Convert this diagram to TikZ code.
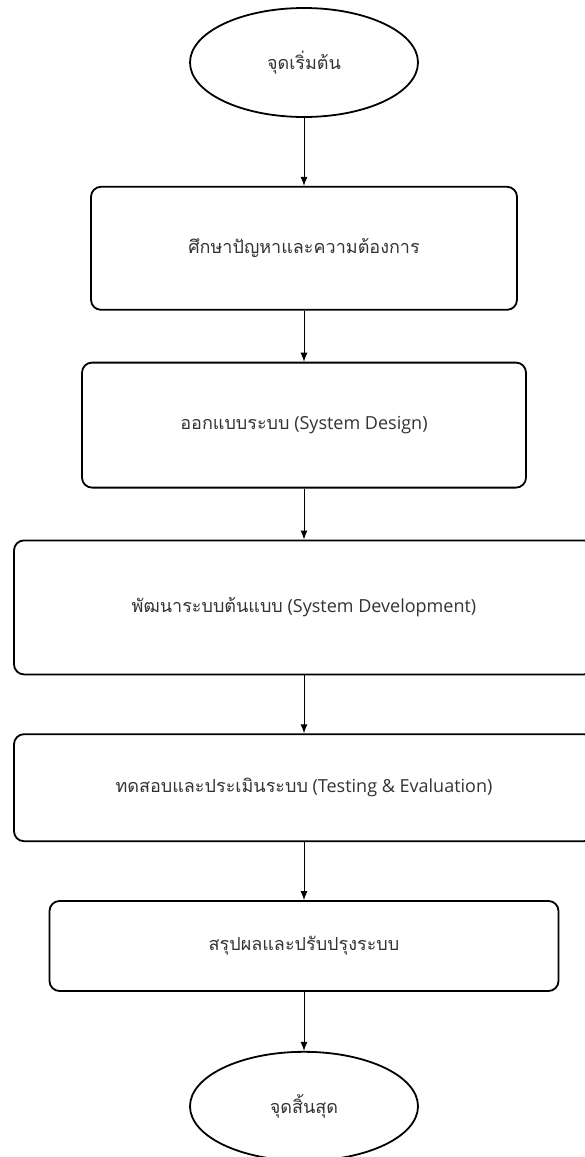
\documentclass[tikz,border=0pt]{standalone}
\usepackage{fontspec}
\setmainfont{Open Sans}
\newfontfamily\thaifont[Script=Thai]{Loma}
\usetikzlibrary{arrows.meta, positioning, shapes.geometric}

\begin{document}
\begin{tikzpicture}[>={Latex[length=9pt,width=7pt]}, x=1pt, y=1pt,
    box/.style={draw, line width=1.8pt, rounded corners=10pt, align=center,
                font=\fontsize{18}{21}\selectfont, text=black!80, inner sep=3pt},
    term/.style={draw, ellipse, line width=1.8pt, minimum width=228pt,
                minimum height=109pt, inner sep=0pt, font=\fontsize{18}{21}\selectfont,
                text=black!80},
    link/.style={->, line width=1pt}]
    \useasboundingbox (0,0) rectangle (585,-1157);
    \node[term] (start) at (304,-62.5) {\thaifont จุดเริ่มต้น};
    \node[box, minimum width=426pt, minimum height=123pt, below=68pt of start] (study)
        {\thaifont ศึกษาปัญหาและความต้องการ};
    \node[box, minimum width=444pt, minimum height=125pt, below=51pt of study] (design)
        {{\thaifont ออกแบบระบบ} (System Design)};
    \node[box, minimum width=580pt, minimum height=134pt, below=51pt of design] (devel)
        {{\thaifont พัฒนาระบบต้นแบบ} (System Development)};
    \node[box, minimum width=580pt, minimum height=107pt, below=58pt of devel] (test)
        {{\thaifont ทดสอบและประเมินระบบ} (Testing \& Evaluation)};
    \node[box, minimum width=509pt, minimum height=90pt, below=58pt of test] (concl)
        {\thaifont สรุปผลและปรับปรุงระบบ};
    \node[term, below=59pt of concl] (finish) {\thaifont จุดสิ้นสุด};
    \draw[link] (start)--(study); \draw[link] (study)--(design);
    \draw[link] (design)--(devel); \draw[link] (devel)--(test);
    \draw[link] (test)--(concl); \draw[link] (concl)--(finish);
  \end{tikzpicture}
\end{document}
